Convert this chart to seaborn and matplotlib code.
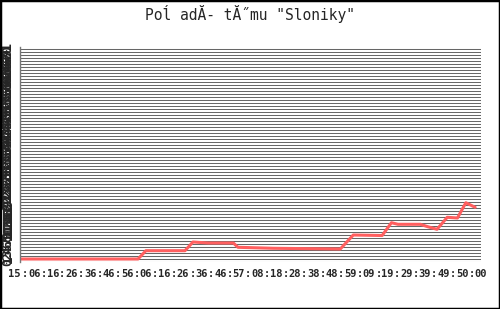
import matplotlib
matplotlib.use("Agg")
import matplotlib.pyplot as plt
import seaborn as sns
import pandas as pd
from matplotlib.patches import Rectangle

# ---- data ----
title = 'Poĺ adĂ- tĂ˝mu "Sloniky"'
t = [-0.54, 12.15, 13.0, 17.2, 18.06, 19.7, 22.4, 22.9, 26.7, 33.9, 35.3,
     38.4, 39.4, 40.1, 42.5, 43.3, 44.3, 45.4, 46.5, 47.4, 48.4]
rank = [1.0, 1.0, 3.77, 3.77, 6.67, 6.33, 6.33, 4.9, 4.57, 4.33, 9.0,
        8.83, 13.1, 12.57, 12.57, 11.77, 10.9, 14.9, 14.67, 19.77, 18.23]
first_label = "15"
major_labels = ["06", "16", "26", "36", "46", "56", "06", "16", "26", "36",
                "46", "57", "08", "18", "28", "38", "48", "59", "09", "19",
                "29", "39", "49", "50", "00"]
minor_label = ":"
y_labels = [str(i) for i in range(0, 72)]

df = pd.DataFrame({"t": t, "rank": rank})

sns.set_style("white")
plt.rcParams["font.family"] = ["DejaVu Sans Mono", "DejaVu Sans"]

fig = plt.figure(figsize=(5.0, 3.09), dpi=100)
ax = fig.add_axes([20 / 500, 47 / 309, 461 / 500, 215 / 309])

sns.lineplot(data=df, x="t", y="rank", ax=ax, color="#ff5f5f", lw=2.2,
             estimator=None, sort=False)

ax.set_xlim(-0.54, 49.03)
ax.set_ylim(0, 71.67)

# horizontal grid lines
ax.set_yticks(range(len(y_labels)))
ax.set_yticklabels(y_labels, rotation=90, fontsize=9, fontweight="bold",
                   va="center")
ax.yaxis.grid(True, color="#666666", lw=0.75)
ax.xaxis.grid(False)
ax.set_axisbelow(True)
ax.tick_params(axis="y", length=0, pad=4)

major_pos = [2 * i + 1 for i in range(len(major_labels))]
minor_pos = [2 * i for i in range(len(major_labels))]
ax.set_xticks(major_pos)
ax.set_xticklabels(major_labels, fontsize=7.5, fontweight="bold")
ax.set_xticks(minor_pos, minor=True)
ax.set_xticklabels([minor_label] * len(minor_pos), minor=True,
                   fontsize=7.5, fontweight="bold")
ax.tick_params(axis="x", which="both", length=3, width=1, color="#777777",
               direction="out", pad=2)
ax.annotate(first_label, xy=(-1.2, 0), xycoords=("data", "axes fraction"),
            xytext=(0, -5), textcoords="offset points", ha="center", va="top",
            fontsize=7.5, fontweight="bold", annotation_clip=False)

ax.set_xlabel("")
ax.set_ylabel("")
for s in ["top", "right", "bottom"]:
    ax.spines[s].set_visible(False)
ax.spines["left"].set_color("#777777")
ax.spines["left"].set_linewidth(1.0)

fig.text(0.5, 1 - 14 / 309, title, ha="center", va="center", fontsize=10.5)
fig.patches.append(Rectangle((0, 0), 1, 1, transform=fig.transFigure,
                             fill=False, edgecolor="black", lw=2.5))

fig.savefig("out.png", dpi=100)
